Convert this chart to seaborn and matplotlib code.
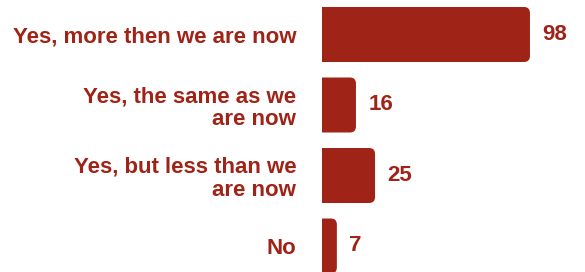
import numpy as np
import pandas as pd
import matplotlib.pyplot as plt
import seaborn as sns
from matplotlib.patches import FancyBboxPatch

answers = ['Yes, more then we are now', 'Yes, the same as we\nare now',
           'Yes, but less than we\nare now', 'No']
counts = [98, 16, 25, 7]

red = '#9f2316'
df = pd.DataFrame({'answer': answers, 'count': counts})

sns.set_style('white')
plt.rcParams['font.family'] = ['Liberation Sans', 'DejaVu Sans']
plt.rcParams['font.weight'] = 'bold'

fig = plt.figure(figsize=(5.85, 2.72), dpi=100)
ax = fig.add_axes([322/585, 0, 263/585, 1])
sns.barplot(data=df, x='count', y='answer', color=red, width=0.78,
            saturation=1, ax=ax)
ax.set_xlim(0, 263/2.122)
ax.set_ylim(3 + 26/70.5, -34.5/70.5)

# rounded right corners
r = 2.8
asp = 0.085/2.8
for p in list(ax.patches):
    x, y, w, h = p.get_x(), p.get_y(), p.get_width(), p.get_height()
    p.remove()
    fb = FancyBboxPatch((x - r, y), w + r, h,
                        boxstyle=f'round,pad=0,rounding_size={r}',
                        mutation_aspect=asp, facecolor=red, edgecolor='none')
    ax.add_patch(fb)

for i, v in enumerate(counts):
    ax.annotate(str(v), (v, i), xytext=(9, 0), textcoords='offset points',
                va='center', ha='left', color=red, fontsize=16, fontweight='bold')

ax.set_xlabel('')
ax.set_ylabel('')
ax.set_xticks([])
ax.tick_params(axis='y', length=0, pad=18.5, labelsize=16, labelcolor=red)
for lbl in ax.get_yticklabels():
    lbl.set_multialignment('right')
    lbl.set_fontweight('bold')
    lbl.set_linespacing(1.12)
sns.despine(ax=ax, left=True, bottom=True)

fig.savefig('out.png', dpi=100)
